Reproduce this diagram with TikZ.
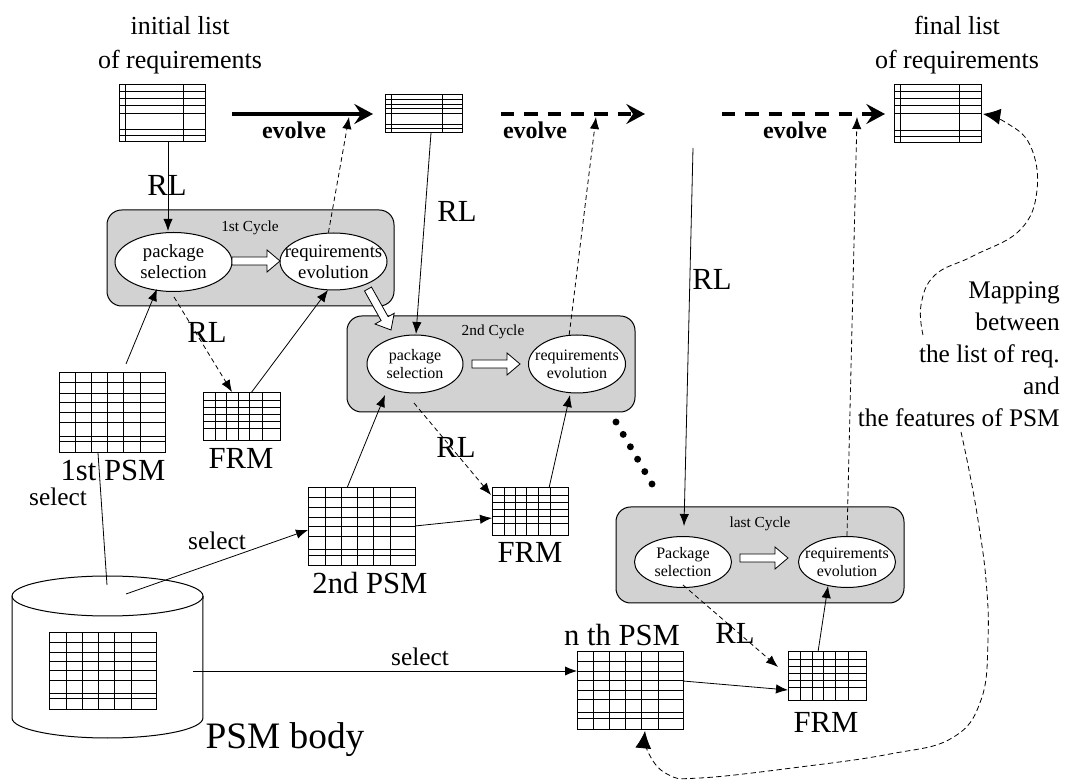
\documentclass[tikz,border=0pt]{standalone}
\usepackage{fontspec}
\setmainfont{Liberation Serif}
\usetikzlibrary{arrows.meta,calc,shapes.geometric}
\definecolor{cycgray}{RGB}{210,210,210}
\newcommand\gridtab[6]{%
  \node[tabbox, minimum width={(#4-#2)*0.75pt}, minimum height={(#5-#3)*0.75pt}] (#1) at ({(#2+#4)/2},{(#3+#5)/2}) {};
  \foreach \f in {.16,.31,.46,.61,.77}
    \draw[tabline] ($(#1.north west)!\f!(#1.north east)$) -- ($(#1.south west)!\f!(#1.south east)$);
  \foreach \f in {#6}
    \draw[tabline] ($(#1.north west)!\f!(#1.south west)$) -- ($(#1.north east)!\f!(#1.south east)$);
}
\newcommand\reqtab[5]{%
  \node[tabbox, minimum width={(#4-#2)*0.75pt}, minimum height={(#5-#3)*0.75pt}] (#1) at ({(#2+#4)/2},{(#3+#5)/2}) {};
  \foreach \f in {.08,.75}
    \draw[tabline] ($(#1.north west)!\f!(#1.north east)$) -- ($(#1.south west)!\f!(#1.south east)$);
  \foreach \f in {.12,.24,.36,.5,.78,.89}
    \draw[tabline] ($(#1.north west)!\f!(#1.south west)$) -- ($(#1.north east)!\f!(#1.south east)$);
}
\newcommand\blockarrow[4]{%
  \begin{scope}[shift={(#1,#2)},rotate=#3]
    \draw[fill=white, line width=0.6pt] (0,4) -- ({#4-13},4) -- ({#4-13},11) -- (#4,0) -- ({#4-13},-11) -- ({#4-13},-4) -- (0,-4) -- cycle;
  \end{scope}}
\begin{document}
\begin{tikzpicture}[x=0.75pt,y=-0.75pt,
  tabbox/.style={draw, fill=white, inner sep=0pt, outer sep=0pt, line width=0.75pt},
  tabline/.style={line width=0.75pt},
  cyc/.style={draw, fill=cycgray, rounded corners=11pt, line width=0.75pt, inner sep=0pt},
  ell/.style={ellipse, draw, fill=white, inner sep=0pt, line width=0.75pt},
  elltxt/.style={align=center, inner sep=0pt, font=\fontsize{12}{13.5}\selectfont},
  elltxtA/.style={align=center, inner sep=0pt, font=\fontsize{14}{15.75}\selectfont},
  cyclab/.style={font=\fontsize{11.5}{13}\selectfont, inner sep=0pt},
  big/.style={font=\fontsize{23}{27}\selectfont, inner sep=0pt},
  sel/.style={font=\fontsize{19}{22}\selectfont, inner sep=0pt},
  evlab/.style={font=\fontsize{18}{20}\selectfont\bfseries, inner sep=0pt},
  ttl/.style={font=\fontsize{19.5}{25.5}\selectfont, align=center, inner sep=0pt},
  arr/.style={-{Latex[length=9pt,width=7pt]}, line width=0.6pt},
  darr/.style={arr, dash pattern=on 3.5pt off 2.5pt},
  evol/.style={line width=3pt, -{Stealth[length=14pt,width=15pt,inset=5pt]}},
  devol/.style={evol, dash pattern=on 10pt off 7.5pt},
  curv/.style={line width=0.6pt, dash pattern=on 4pt off 2.5pt, -{Latex[length=13pt,width=12pt]}},
]
\useasboundingbox (0,0) rectangle (1065,780);

% titles
\node[ttl] (tinit) at (180,45) {initial list\\of requirements};
\node[ttl] (tfinal) at (957,45) {final list\\of requirements};

% cycle boxes
\node[cyc, minimum width={287*0.75pt}, minimum height={96*0.75pt}] (c1) at (250.5,258) {};
\node[cyc, minimum width={288*0.75pt}, minimum height={96*0.75pt}] (c2) at (491,364) {};
\node[cyc, minimum width={288*0.75pt}, minimum height={96*0.75pt}] (c3) at (760,555) {};
\node[cyclab] (c1l) at (250,228) {1st Cycle};
\node[cyclab] (c2l) at (493,332) {2nd Cycle};
\node[cyclab] (c3l) at (760,524) {last Cycle};

% ellipses
\node[ell, minimum width={117*0.75pt}, minimum height={59*0.75pt}] (ps1) at (173.5,262) {};
\node[ell, minimum width={107*0.75pt}, minimum height={57*0.75pt}] (re1) at (333.5,261.5) {};
\node[ell, minimum width={96*0.75pt}, minimum height={58*0.75pt}] (ps2) at (415,364) {};
\node[ell, minimum width={97*0.75pt}, minimum height={58*0.75pt}] (re2) at (577,364) {};
\node[ell, minimum width={97*0.75pt}, minimum height={51*0.75pt}] (ps3) at (683,562) {};
\node[ell, minimum width={97*0.75pt}, minimum height={51*0.75pt}] (re3) at (847,562) {};
\node[elltxtA] at (ps1) {package\\selection};
\node[elltxtA] at (re1) {requirements\\evolution};
\node[elltxt] at (ps2) {package\\selection};
\node[elltxt] at (re2) {requirements\\evolution};
\node[elltxt] at (ps3) {Package\\selection};
\node[elltxt] at (re3) {requirements\\evolution};

% block arrows
\blockarrow{232}{261}{0}{48}
\blockarrow{472}{364}{0}{48}
\blockarrow{740}{558}{0}{48}
\blockarrow{368}{289}{-60.7}{47}

% requirement lists
\reqtab{req1}{119}{85}{205}{142}
\reqtab{req2}{385}{95}{462}{133}
\reqtab{req3}{894}{85}{981}{143}

% PSM and FRM grids
\gridtab{psm1}{59}{373}{165}{453}{.125,.255,.375,.5,.62,.79,.86}
\gridtab{frm1}{203}{393}{280}{441}{.15,.3,.45,.6,.75}
\gridtab{psm2}{308}{488}{415}{566}{.125,.255,.375,.5,.62,.79,.86}
\gridtab{frm2}{492}{488}{568}{536}{.15,.3,.45,.6,.75}
\gridtab{psmN}{577}{652}{683}{729}{.125,.255,.375,.5,.62,.79,.86}
\gridtab{frmN}{788}{652}{866}{700}{.15,.3,.45,.6,.75}

% PSM body cylinder
\draw[line width=0.75pt, fill=white] (12,596) -- (12,718) arc[start angle=180, end angle=360, x radius=71.6pt, y radius=15pt] -- (203,596);
\draw[line width=0.75pt] (107.5,596) ellipse[x radius=71.6pt, y radius=15pt];
\node[inner sep=0pt, minimum width={191*0.75pt}, minimum height={162*0.75pt}] (body) at (107.5,657) {};
\gridtab{bodytab}{49}{633}{156}{709}{.125,.255,.375,.5,.62,.79,.86}

% endpoint coordinates
\coordinate (e1s) at (232,114); \coordinate (e1e) at (373,114);
\coordinate (e2s) at (501,114); \coordinate (e2e) at (645,114);
\coordinate (e3s) at (722,114); \coordinate (e3e) at (885,114);
\coordinate (up1) at (349,117); \coordinate (up2) at (596,117); \coordinate (up3) at (857,117);
\coordinate (rl1s) at (168,142); \coordinate (rl1e) at (168,231);
\coordinate (rl2s) at (431,133); \coordinate (rl2e) at (416,334);
\coordinate (rl3s) at (693,148); \coordinate (rl3e) at (684,526);
\coordinate (p1s) at (126,364); \coordinate (p1e) at (157,289);
\coordinate (f1s) at (251,393); \coordinate (f1e) at (328,290);
\coordinate (d1s) at (174,297); \coordinate (d1e) at (232,392);
\coordinate (b1) at (107,585); \coordinate (b1e) at (98,453);
\coordinate (b2) at (126,594); \coordinate (b2e) at (308,530);
\coordinate (b3) at (193,671); \coordinate (b3e) at (577,671);
\coordinate (p2s) at (347,488); \coordinate (p2e) at (385,395);
\coordinate (q2s) at (415,526); \coordinate (q2e) at (492,518);
\coordinate (f2s) at (549,488); \coordinate (f2e) at (570,395);
\coordinate (d2s) at (414,403); \coordinate (d2e) at (491,495);
\coordinate (qNs) at (683,681); \coordinate (qNe) at (788,690);
\coordinate (fNs) at (818,652); \coordinate (fNe) at (828,586);
\coordinate (dNs) at (683,585); \coordinate (dNe) at (778,667);

% evolve arrows
\draw[evol] (e1s) -- (e1e);
\draw[devol] (e2s) -- (e2e);
\draw[devol] (e3s) -- (e3e);
\node[evlab] (ev1) at (294,130) {evolve};
\node[evlab] (ev2) at (535,130) {evolve};
\node[evlab] (ev3) at (795,130) {evolve};

% dashed arrows up to evolve
\draw[darr] (re1.100) -- (up1);
\draw[darr] (re2.105) -- (up2);
\draw[darr] (re3.north) -- (up3);

% RL solid arrows
\draw[arr] (rl1s) -- (rl1e);
\draw[arr] (rl2s) -- (rl2e);
\draw[arr] (rl3s) -- (rl3e);

% cycle 1
\draw[arr] (p1s) -- (p1e);
\draw[arr] (f1s) -- (f1e);
\draw[darr] (d1s) -- (d1e);
% cycle 2
\draw[arr] (p2s) -- (p2e);
\draw[arr] (q2s) -- (q2e);
\draw[arr] (f2s) -- (f2e);
\draw[darr] (d2s) -- (d2e);
% last cycle
\draw[arr] (qNs) -- (qNe);
\draw[arr] (fNs) -- (fNe);
\draw[darr] (dNs) -- (dNe);

% select lines
\draw[line width=0.6pt] (b1) -- (b1e);
\draw[arr] (b2) -- (b2e);
\draw[arr] (b3) -- (b3e);

% dots
\foreach \i in {0,...,5}
  \fill ($(616,422)!\i/5!(652,484)$) circle[radius=2.6pt];

% mapping curve
\draw[curv] plot[smooth, tension=0.7] coordinates {(923,335) (921,305) (935,275) (973,256) (1020,230) (1037,190) (1030,145) (1005,122) (983,114)};
\draw[curv] plot[smooth, tension=0.7] coordinates {(961,432) (969,470) (978,520) (986,580) (988,640) (981,700) (952,738) (890,754) (800,767) (700,778) (667,774) (648,752) (645,731)};

% labels
\node[big] (l1) at (167,185) {RL};
\node[big] (l2) at (207,332) {RL};
\node[big] (l3) at (457,211) {RL};
\node[big] (l4) at (456,447) {RL};
\node[big] (l5) at (712,279) {RL};
\node[big] (l6) at (735,633) {RL};
\node[big] (lp1) at (113,470) {1st PSM};
\node[big] (lf1) at (241,458) {FRM};
\node[big] (lp2) at (370,583) {2nd PSM};
\node[big] (lf2) at (530,552) {FRM};
\node[big] (lpN) at (622,635) {n th PSM};
\node[big] (lfN) at (826,722) {FRM};
\node[font=\fontsize{28}{32}\selectfont, inner sep=0pt] (lbody) at (285,740) {PSM body};
\node[sel] (s1) at (58,497) {select};
\node[sel] (s2) at (217,541) {select};
\node[sel] (s3) at (420,657) {select};
\node[font=\fontsize{19}{24}\selectfont, align=right, inner sep=0pt, anchor=east] (map) at (1060,354) {Mapping\\between\\the list of req.\\and\\the features of PSM};
\end{tikzpicture}
\end{document}
